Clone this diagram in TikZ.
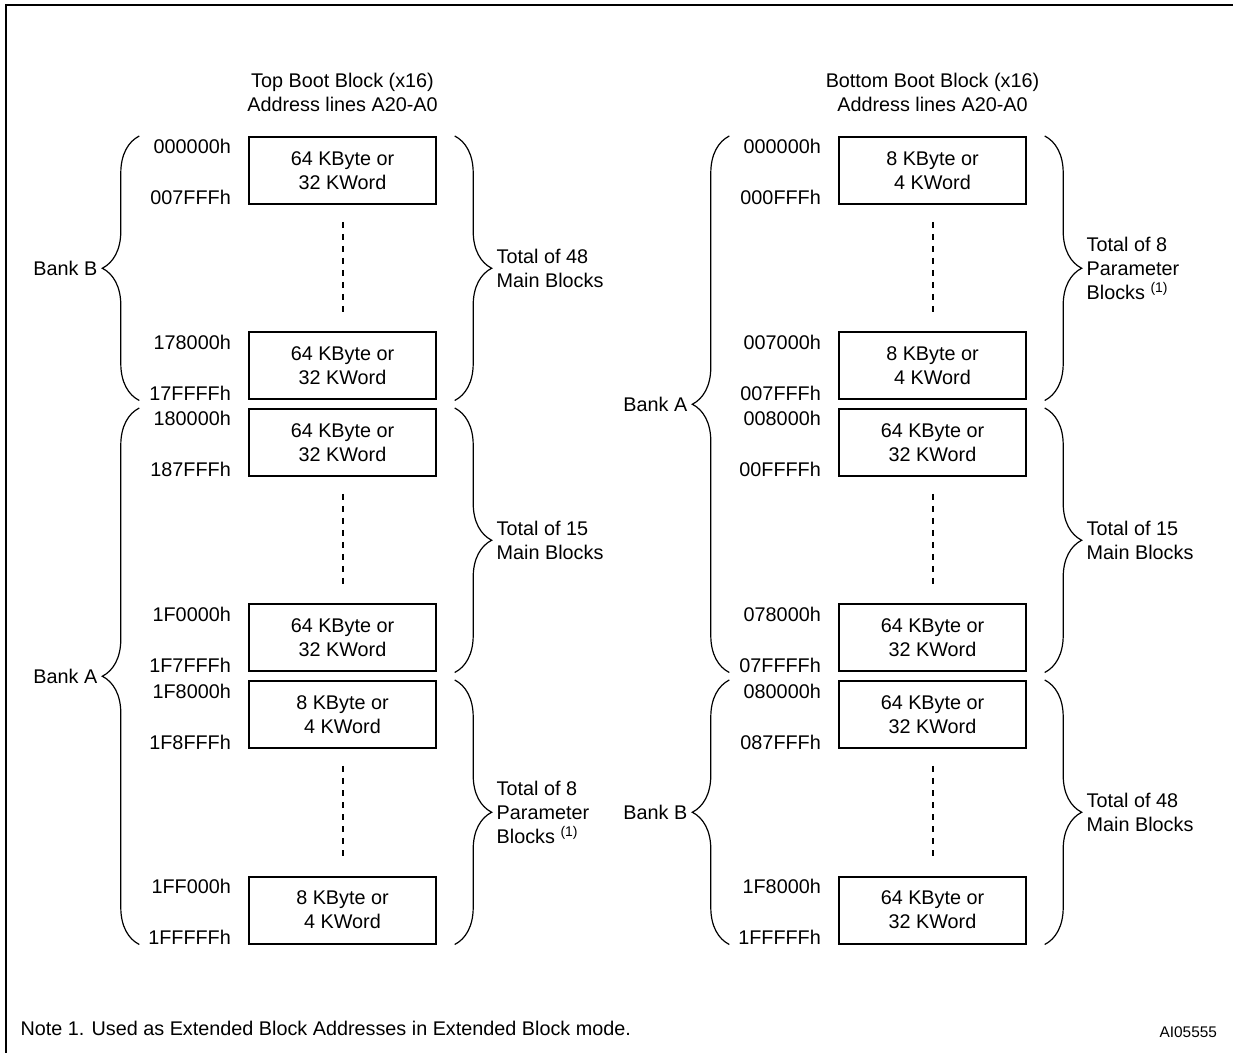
\documentclass[tikz,border=0pt]{standalone}
\usepackage{fontspec}
\setmainfont{Liberation Sans}
\usetikzlibrary{decorations.pathreplacing, positioning}

\tikzset{
  blk/.style={draw, line width=1pt, minimum width=93.2pt, minimum height=33.5pt,
    inner sep=0pt, align=center, font=\fontsize{9.9}{12}\selectfont},
  addr/.style={inner sep=0pt, outer sep=0pt, font=\fontsize{9.9}{12}\selectfont},
  total/.style={addr, align=left},
  bank/.style={decorate, decoration={brace, amplitude=18.5pt}, line width=0.6pt},
  dots/.style={line width=1pt, dash pattern=on 3pt off 3pt},
}
\newcommand{\fnref}{\raisebox{3.2pt}{\fontsize{7}{8}\selectfont(1)}}

\begin{document}
\begin{tikzpicture}[x=0.5pt, y=-0.5pt]
  \useasboundingbox (0,0) rectangle (1233,1053);
  \draw[line width=1pt] (6,1053) -- (6,5) -- (1233,5);

  % top boot block
  \node[addr, align=center] (ttitle) at (342.5,92) {Top Boot Block (x16)\\Address lines A20-A0};
  \begin{scope}[every node/.style={blk}]
    \node (t1) at (342.5,170.5) {64 KByte or\\32 KWord};
    \node (t2) at (342.5,366) {64 KByte or\\32 KWord};
    \node (t3) at (342.5,442.5) {64 KByte or\\32 KWord};
    \node (t4) at (342.5,638) {64 KByte or\\32 KWord};
    \node (t5) at (342.5,714.5) {8 KByte or\\4 KWord};
    \node (t6) at (342.5,910) {8 KByte or\\4 KWord};
  \end{scope}
  \begin{scope}[every node/.style={addr, anchor=base east}]
    \node (t1a) at ([xshift=-8.75pt, yshift=-9pt]t1.north west) {000000h};
    \node (t1b) at ([xshift=-8.75pt]t1.south west) {007FFFh};
    \node (t2a) at ([xshift=-8.75pt, yshift=-9pt]t2.north west) {178000h};
    \node (t2b) at ([xshift=-8.75pt]t2.south west) {17FFFFh};
    \node (t3a) at ([xshift=-8.75pt, yshift=-9pt]t3.north west) {180000h};
    \node (t3b) at ([xshift=-8.75pt]t3.south west) {187FFFh};
    \node (t4a) at ([xshift=-8.75pt, yshift=-9pt]t4.north west) {1F0000h};
    \node (t4b) at ([xshift=-8.75pt]t4.south west) {1F7FFFh};
    \node (t5a) at ([xshift=-8.75pt, yshift=-9pt]t5.north west) {1F8000h};
    \node (t5b) at ([xshift=-8.75pt]t5.south west) {1F8FFFh};
    \node (t6a) at ([xshift=-8.75pt, yshift=-9pt]t6.north west) {1FF000h};
    \node (t6b) at ([xshift=-8.75pt]t6.south west) {1FFFFFh};
  \end{scope}
  \draw[dots] ([yshift=-8.5pt]t1.south) -- ([yshift=9.5pt]t2.north);
  \draw[dots] ([yshift=-8.5pt]t3.south) -- ([yshift=9.5pt]t4.north);
  \draw[dots] ([yshift=-8.5pt]t5.south) -- ([yshift=9.5pt]t6.north);
  \draw[bank] ([xshift=-54.5pt]t2.south west) -- node[addr, left=21pt] (tbankB) {Bank B} ([xshift=-54.5pt]t1.north west);
  \draw[bank] ([xshift=-54.5pt]t6.south west) -- node[addr, left=21pt] (tbankA) {Bank A} ([xshift=-54.5pt]t3.north west);
  \draw[bank] ([xshift=9pt]t1.north east) -- node[total, right=21pt] (ttot48) {Total of 48\\Main Blocks} ([xshift=9pt]t2.south east);
  \draw[bank] ([xshift=9pt]t3.north east) -- node[total, right=21pt] (ttot15) {Total of 15\\Main Blocks} ([xshift=9pt]t4.south east);
  \draw[bank] ([xshift=9pt]t5.north east) -- node[total, right=21pt] (ttot8) {Total of 8\\Parameter\\Blocks \fnref} ([xshift=9pt]t6.south east);

  % bottom boot block
  \node[addr, align=center] (btitle) at (932.5,92) {Bottom Boot Block (x16)\\Address lines A20-A0};
  \begin{scope}[every node/.style={blk}]
    \node (b1) at (932.5,170.5) {8 KByte or\\4 KWord};
    \node (b2) at (932.5,366) {8 KByte or\\4 KWord};
    \node (b3) at (932.5,442.5) {64 KByte or\\32 KWord};
    \node (b4) at (932.5,638) {64 KByte or\\32 KWord};
    \node (b5) at (932.5,714.5) {64 KByte or\\32 KWord};
    \node (b6) at (932.5,910) {64 KByte or\\32 KWord};
  \end{scope}
  \begin{scope}[every node/.style={addr, anchor=base east}]
    \node (b1a) at ([xshift=-8.75pt, yshift=-9pt]b1.north west) {000000h};
    \node (b1b) at ([xshift=-8.75pt]b1.south west) {000FFFh};
    \node (b2a) at ([xshift=-8.75pt, yshift=-9pt]b2.north west) {007000h};
    \node (b2b) at ([xshift=-8.75pt]b2.south west) {007FFFh};
    \node (b3a) at ([xshift=-8.75pt, yshift=-9pt]b3.north west) {008000h};
    \node (b3b) at ([xshift=-8.75pt]b3.south west) {00FFFFh};
    \node (b4a) at ([xshift=-8.75pt, yshift=-9pt]b4.north west) {078000h};
    \node (b4b) at ([xshift=-8.75pt]b4.south west) {07FFFFh};
    \node (b5a) at ([xshift=-8.75pt, yshift=-9pt]b5.north west) {080000h};
    \node (b5b) at ([xshift=-8.75pt]b5.south west) {087FFFh};
    \node (b6a) at ([xshift=-8.75pt, yshift=-9pt]b6.north west) {1F8000h};
    \node (b6b) at ([xshift=-8.75pt]b6.south west) {1FFFFFh};
  \end{scope}
  \draw[dots] ([yshift=-8.5pt]b1.south) -- ([yshift=9.5pt]b2.north);
  \draw[dots] ([yshift=-8.5pt]b3.south) -- ([yshift=9.5pt]b4.north);
  \draw[dots] ([yshift=-8.5pt]b5.south) -- ([yshift=9.5pt]b6.north);
  \draw[bank] ([xshift=-54.5pt]b4.south west) -- node[addr, left=21pt] (bbankA) {Bank A} ([xshift=-54.5pt]b1.north west);
  \draw[bank] ([xshift=-54.5pt]b6.south west) -- node[addr, left=21pt] (bbankB) {Bank B} ([xshift=-54.5pt]b5.north west);
  \draw[bank] ([xshift=9pt]b1.north east) -- node[total, right=21pt] (btot8) {Total of 8\\Parameter\\Blocks \fnref} ([xshift=9pt]b2.south east);
  \draw[bank] ([xshift=9pt]b3.north east) -- node[total, right=21pt] (btot15) {Total of 15\\Main Blocks} ([xshift=9pt]b4.south east);
  \draw[bank] ([xshift=9pt]b5.north east) -- node[total, right=21pt] (btot48) {Total of 48\\Main Blocks} ([xshift=9pt]b6.south east);

  % footer
  \node[addr, anchor=base west] (note) at (20.5,1035) {Note 1. Used as Extended Block Addresses in Extended Block mode.};
  \node[addr, anchor=base east, font=\fontsize{7.7}{9}\selectfont] (code) at (1217,1037) {AI05555};
\end{tikzpicture}
\end{document}
